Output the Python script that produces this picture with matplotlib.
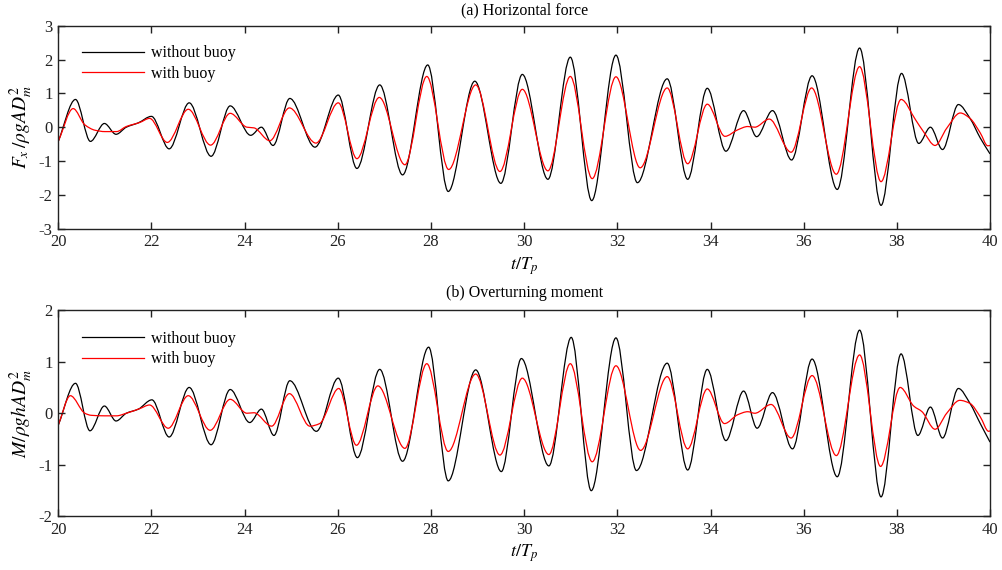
import numpy as np
import matplotlib
matplotlib.use("Agg")
import matplotlib.pyplot as plt
from matplotlib.path import Path
from matplotlib.patches import PathPatch

plt.rcParams["font.family"] = ["Liberation Serif", "DejaVu Serif"]
plt.rcParams["mathtext.fontset"] = "stix"
plt.rcParams["axes.unicode_minus"] = False

# ---- data (turning points and shape points) ----
# (a) horizontal force, without buoy
fx_no_t = [20.0, 20.37, 20.69, 20.99, 21.24, 21.46, 21.72, 22.0, 22.38, 22.81,
           23.28, 23.69, 24.13, 24.36, 24.61, 24.97, 25.51, 26.01, 26.41, 26.9,
           27.39, 27.93, 28.37, 28.94, 29.5, 29.96, 30.51, 30.99, 31.45, 31.97,
           32.43, 33.07, 33.51, 33.93, 34.33, 34.71, 34.99, 35.33, 35.74, 36.18,
           36.72, 37.2, 37.66, 38.1, 38.47, 38.72, 38.98, 39.32, 39.57, 39.79, 40.0]
fx_no_v = [-0.42, 0.82, -0.42, 0.11, -0.21, 0.0, 0.13, 0.32, -0.64, 0.72,
           -0.86, 0.63, -0.24, 0.0, -0.54, 0.85, -0.59, 0.95, -1.22, 1.25,
           -1.41, 1.84, -1.90, 1.36, -1.66, 1.56, -1.54, 2.07, -2.17, 2.13,
           -1.64, 1.43, -1.54, 1.15, -0.71, 0.49, -0.28, 0.49, -0.97, 1.52,
           -1.84, 2.34, -2.31, 1.59, -0.48, 0.0, -0.66, 0.67, 0.26, -0.32, -0.79]

# (a) horizontal force, with buoy
fx_b_t = [20.0, 20.32, 20.57, 20.79, 21.0, 21.25, 21.46, 21.75, 21.96, 22.34,
          22.79, 23.27, 23.69, 24.05, 24.2, 24.54, 24.96, 25.53, 26.01, 26.41,
          26.89, 27.44, 27.91, 28.38, 28.96, 29.48, 29.96, 30.51, 30.99, 31.46,
          31.97, 32.49, 33.07, 33.51, 33.93, 34.31, 34.58, 34.8, 34.95, 35.26,
          35.73, 36.17, 36.7, 37.2, 37.66, 38.09, 38.4, 38.57, 38.82, 39.07,
          39.36, 39.57, 39.79, 39.95, 40.0]
fx_b_v = [-0.42, 0.55, 0.07, -0.09, -0.13, -0.13, 0.02, 0.14, 0.26, -0.45,
          0.53, -0.53, 0.41, 0.0, -0.02, -0.40, 0.57, -0.47, 0.72, -0.93,
          0.88, -1.11, 1.50, -1.25, 1.25, -1.31, 1.12, -1.29, 1.50, -1.52,
          1.49, -1.20, 1.16, -1.08, 0.68, -0.27, -0.08, 0.02, 0.0, 0.24,
          -0.74, 1.16, -1.39, 1.79, -1.61, 0.82, 0.22, -0.13, -0.54, -0.03,
          0.42, 0.26, -0.17, -0.55, -0.54]

# (b) overturning moment, without buoy
m_no_t = [20.0, 20.37, 20.68, 20.99, 21.24, 21.46, 21.72, 22.01, 22.38, 22.81,
          23.28, 23.69, 24.11, 24.36, 24.63, 24.97, 25.54, 26.01, 26.42, 26.9,
          27.39, 27.95, 28.37, 28.96, 29.51, 29.94, 30.53, 31.01, 31.44, 31.97,
          32.41, 33.07, 33.51, 33.93, 34.33, 34.71, 35.0, 35.33, 35.76, 36.18,
          36.72, 37.2, 37.66, 38.09, 38.45, 38.72, 38.98, 39.32, 39.57, 39.79, 40.0]
m_no_v = [-0.23, 0.58, -0.34, 0.14, -0.15, 0.0, 0.08, 0.26, -0.46, 0.50,
          -0.61, 0.46, -0.18, 0.08, -0.43, 0.63, -0.35, 0.68, -0.86, 0.85,
          -0.93, 1.28, -1.31, 0.84, -1.13, 1.06, -1.02, 1.47, -1.50, 1.46,
          -1.11, 0.97, -1.10, 0.85, -0.53, 0.43, -0.29, 0.40, -0.69, 1.05,
          -1.23, 1.61, -1.62, 1.15, -0.43, 0.12, -0.48, 0.48, 0.19, -0.20, -0.56]

# (b) overturning moment, with buoy
m_b_t = [20.0, 20.26, 20.57, 20.71, 21.0, 21.25, 21.46, 21.75, 21.96, 22.36,
         22.79, 23.26, 23.69, 24.05, 24.2, 24.58, 24.96, 25.4, 25.61, 26.02,
         26.4, 26.86, 27.44, 27.91, 28.37, 28.96, 29.48, 29.96, 30.53, 30.99,
         31.46, 31.97, 32.5, 33.07, 33.51, 33.93, 34.3, 34.58, 34.8, 34.95,
         35.3, 35.73, 36.18, 36.7, 37.2, 37.65, 38.07, 38.36, 38.54, 38.82,
         39.07, 39.35, 39.57, 39.79, 39.97, 40.0]
m_b_v = [-0.23, 0.34, 0.0, -0.04, -0.05, -0.05, 0.0, 0.09, 0.16, -0.29,
         0.34, -0.33, 0.27, 0.0, 0.01, -0.25, 0.38, -0.25, -0.20, 0.48,
         -0.62, 0.53, -0.68, 0.96, -0.74, 0.76, -0.81, 0.68, -0.80, 0.96,
         -0.94, 0.92, -0.72, 0.71, -0.69, 0.47, -0.20, -0.03, 0.03, 0.0,
         0.17, -0.48, 0.73, -0.82, 1.13, -1.03, 0.50, 0.14, 0.03, -0.31,
         0.0, 0.25, 0.19, -0.07, -0.35, -0.34]

labels = ["without buoy", "with buoy"]
colors = ["black", "red"]


def smooth_path(t, v):
    # cubic Bezier segments through the read points (flat at turning points)
    t = np.asarray(t, float)
    v = np.asarray(v, float)
    d = np.diff(v) / np.diff(t)
    m = np.zeros(len(t))
    m[0] = d[0]
    m[-1] = d[-1]
    for i in range(1, len(t) - 1):
        if d[i - 1] * d[i] > 0:
            m[i] = 2.0 / (1.0 / d[i - 1] + 1.0 / d[i])
    verts = [(t[0], v[0])]
    codes = [Path.MOVETO]
    for i in range(len(t) - 1):
        h = t[i + 1] - t[i]
        verts += [(t[i] + h / 3, v[i] + m[i] * h / 3),
                  (t[i + 1] - h / 3, v[i + 1] - m[i + 1] * h / 3),
                  (t[i + 1], v[i + 1])]
        codes += [Path.CURVE4] * 3
    return Path(verts, codes)


fig = plt.figure(figsize=(10.03, 5.70), dpi=100)
ax1 = fig.add_axes([0.0581, 0.5988, 0.9290, 0.3561])
ax2 = fig.add_axes([0.0581, 0.0939, 0.9290, 0.3622])

panels = [
    (ax1, [(fx_no_t, fx_no_v), (fx_b_t, fx_b_v)], (-3, 3),
     "(a) Horizontal force", r"$F_x\,/\rho gAD^2_m$", 8, 0.975),
    (ax2, [(m_no_t, m_no_v), (m_b_t, m_b_v)], (-2, 2),
     "(b) Overturning moment", r"$M/\rho ghAD^2_m$", 9.5, 0.97),
]

for ax, series, ylim, title, ylabel, tpad, ly in panels:
    for (t, v), c, lab in zip(series, colors, labels):
        ax.add_patch(PathPatch(smooth_path(t, v), fill=False, edgecolor=c,
                               linewidth=0.9))
        ax.plot([], [], color=c, linewidth=0.9, label=lab)
    ax.set_xlim(20, 40)
    ax.set_ylim(*ylim)
    ax.set_xticks(range(20, 41, 2))
    ax.set_yticks(range(ylim[0], ylim[1] + 1))
    ax.tick_params(direction="in", top=True, right=True, length=5,
                   width=1.0, labelsize=12, pad=4, colors="#222222")
    for s in ax.spines.values():
        s.set_linewidth(1.0)
        s.set_color("#222222")
    ax.set_title(title, fontsize=11.5, pad=tpad)
    ax.set_xlabel(r"$t/T_p$", fontsize=13, labelpad=3.5)
    ax.set_ylabel(ylabel, fontsize=14, labelpad=3)
    ax.legend(loc="upper left", bbox_to_anchor=(0.010, ly), frameon=False,
              fontsize=11.5, handlelength=3.9, handletextpad=0.4,
              labelspacing=0.3, borderaxespad=0.5)

fig.savefig("out.png", dpi=100)
